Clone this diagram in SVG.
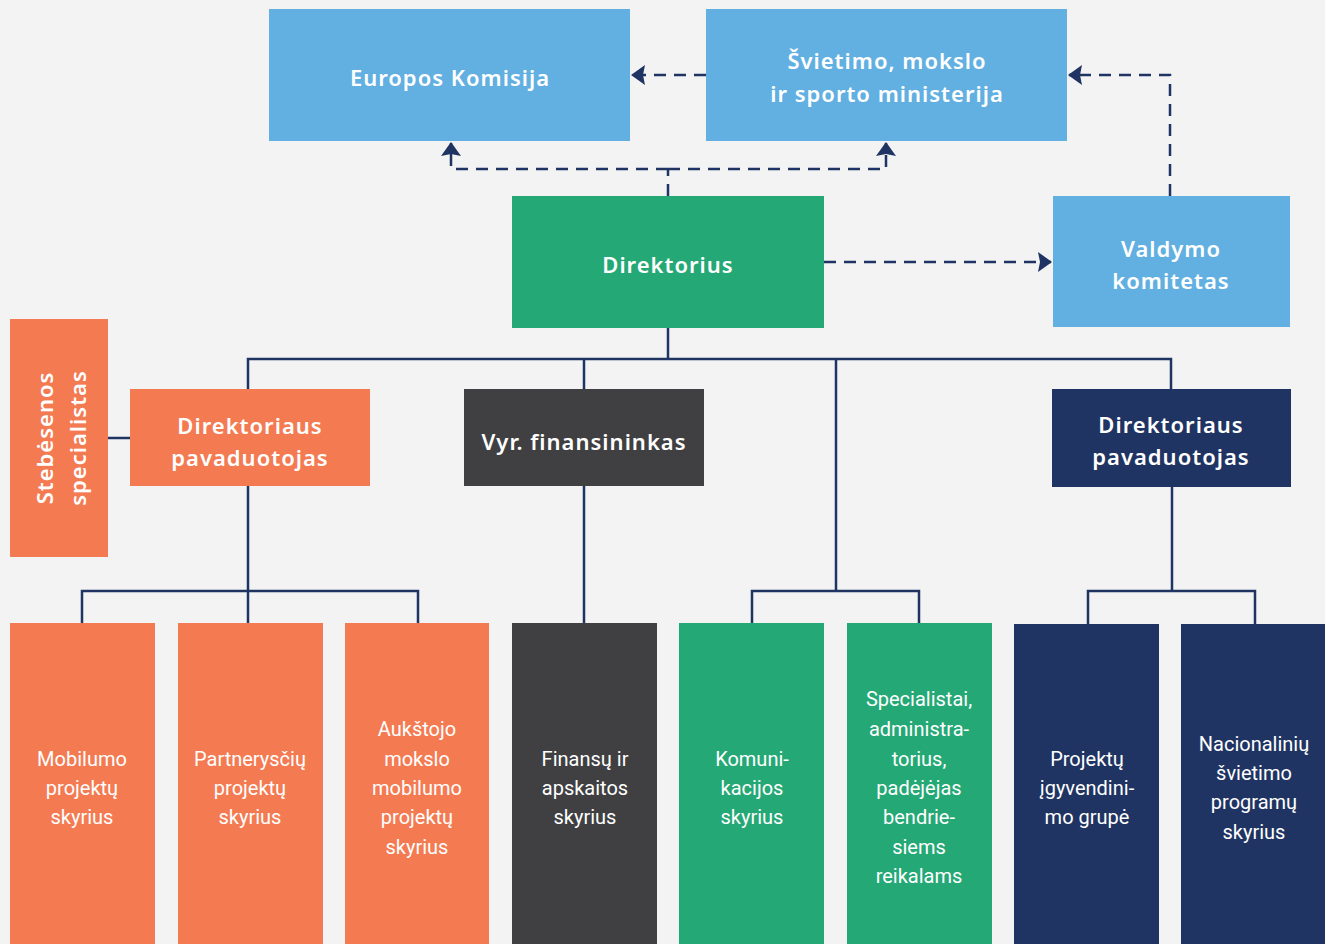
<svg xmlns="http://www.w3.org/2000/svg" width="1325" height="944" viewBox="0 0 1325 944">
<defs>
<style>
.bg{fill:#f3f3f3}
.blue{fill:#62b0e1}
.green{fill:#24a875}
.orange{fill:#f47a52}
.gray{fill:#404042}
.navy{fill:#1f3462}
.h{font-family:"Noto Sans","DejaVu Sans",sans-serif;font-weight:600;font-size:22px;fill:#fff;text-anchor:middle;letter-spacing:1px}
.b{font-family:Roboto,"Noto Sans",sans-serif;font-size:20px;fill:#fff;text-anchor:middle}
.solid{fill:none;stroke:#1f3462;stroke-width:2.5}
.dash{fill:none;stroke:#1f3462;stroke-width:2.5;stroke-dasharray:12 8}
</style>
<marker id="arr" viewBox="0 0 14 20" refX="13" refY="10" markerWidth="14" markerHeight="20" markerUnits="userSpaceOnUse" orient="auto">
<path d="M0,0 L14,10 L0,20 L2,10 Z" fill="#1f3462"/>
</marker>
</defs>
<rect class="bg" x="0" y="0" width="1325" height="944"/>

<g id="connectors">
<path class="dash" d="M706,75 H632" marker-end="url(#arr)"/>
<path class="dash" d="M668,196 V169"/>
<path class="dash" d="M668,169 H451 V143" marker-end="url(#arr)"/>
<path class="dash" d="M668,169 H886 V143" marker-end="url(#arr)"/>
<path class="dash" d="M824,262 H1051" marker-end="url(#arr)"/>
<path class="dash" d="M1170,196 V75 H1069" marker-end="url(#arr)"/>
<path class="solid" d="M668,328 V359"/>
<path class="solid" d="M248,389 V359 H1171 V389"/>
<path class="solid" d="M584,359 V389"/>
<path class="solid" d="M836,359 V591"/>
<path class="solid" d="M108,438 H130"/>
<path class="solid" d="M248,486 V623"/>
<path class="solid" d="M82,623 V591 H418 V623"/>
<path class="solid" d="M584,486 V623"/>
<path class="solid" d="M752,623 V591 H919 V623"/>
<path class="solid" d="M1172,487 V591"/>
<path class="solid" d="M1088,624 V591 H1255 V624"/>
</g>

<g id="europos-komisija">
<rect class="blue" x="269" y="9" width="361" height="132"/>
<text class="h" x="450" y="86">Europos Komisija</text>
</g>
<g id="ministerija">
<rect class="blue" x="706" y="9" width="361" height="132"/>
<text class="h" x="887" y="69">Švietimo, mokslo</text>
<text class="h" x="887" y="102">ir sporto ministerija</text>
</g>
<g id="direktorius">
<rect class="green" x="512" y="196" width="312" height="132"/>
<text class="h" x="668" y="273">Direktorius</text>
</g>
<g id="valdymo-komitetas">
<rect class="blue" x="1053" y="196" width="237" height="131"/>
<text class="h" x="1171" y="257">Valdymo</text>
<text class="h" x="1171" y="289">komitetas</text>
</g>
<g id="stebesenos">
<rect class="orange" x="10" y="319" width="98" height="238"/>
<g transform="translate(59,438) rotate(-90)">
<text class="h" x="0" y="-6.5">Stebėsenos</text>
<text class="h" x="0" y="26.5">specialistas</text>
</g>
</g>
<g id="pavaduotojas-1">
<rect class="orange" x="130" y="389" width="240" height="97"/>
<text class="h" x="250" y="434">Direktoriaus</text>
<text class="h" x="250" y="466">pavaduotojas</text>
</g>
<g id="finansininkas">
<rect class="gray" x="464" y="389" width="240" height="97"/>
<text class="h" x="584" y="450">Vyr. finansininkas</text>
</g>
<g id="pavaduotojas-2">
<rect class="navy" x="1052" y="389" width="239" height="98"/>
<text class="h" x="1171" y="433">Direktoriaus</text>
<text class="h" x="1171" y="465">pavaduotojas</text>
</g>

<g id="mobilumo">
<rect class="orange" x="10" y="623" width="145" height="321"/>
<text class="b" x="82" y="766">Mobilumo</text>
<text class="b" x="82" y="795">projektų</text>
<text class="b" x="82" y="824">skyrius</text>
</g>
<g id="partnerysciu">
<rect class="orange" x="178" y="623" width="145" height="321"/>
<text class="b" x="250" y="766">Partnerysčių</text>
<text class="b" x="250" y="795">projektų</text>
<text class="b" x="250" y="824">skyrius</text>
</g>
<g id="aukstojo">
<rect class="orange" x="345" y="623" width="144" height="321"/>
<text class="b" x="417" y="736">Aukštojo</text>
<text class="b" x="417" y="766">mokslo</text>
<text class="b" x="417" y="795">mobilumo</text>
<text class="b" x="417" y="824">projektų</text>
<text class="b" x="417" y="854">skyrius</text>
</g>
<g id="finansu">
<rect class="gray" x="512" y="623" width="145" height="321"/>
<text class="b" x="585" y="766">Finansų ir</text>
<text class="b" x="585" y="795">apskaitos</text>
<text class="b" x="585" y="824">skyrius</text>
</g>
<g id="komunikacijos">
<rect class="green" x="679" y="623" width="145" height="321"/>
<text class="b" x="752" y="766">Komuni-</text>
<text class="b" x="752" y="795">kacijos</text>
<text class="b" x="752" y="824">skyrius</text>
</g>
<g id="specialistai">
<rect class="green" x="847" y="623" width="145" height="321"/>
<text class="b" x="919" y="706">Specialistai,</text>
<text class="b" x="919" y="736">administra-</text>
<text class="b" x="919" y="766">torius,</text>
<text class="b" x="919" y="795">padėjėjas</text>
<text class="b" x="919" y="824">bendrie-</text>
<text class="b" x="919" y="854">siems</text>
<text class="b" x="919" y="883">reikalams</text>
</g>
<g id="projektu-grupe">
<rect class="navy" x="1014" y="624" width="145" height="320"/>
<text class="b" x="1087" y="766">Projektų</text>
<text class="b" x="1087" y="795">įgyvendini-</text>
<text class="b" x="1087" y="824">mo grupė</text>
</g>
<g id="nacionaliniu">
<rect class="navy" x="1181" y="624" width="144" height="320"/>
<text class="b" x="1254" y="751">Nacionalinių</text>
<text class="b" x="1254" y="780">švietimo</text>
<text class="b" x="1254" y="809">programų</text>
<text class="b" x="1254" y="839">skyrius</text>
</g>
</svg>
